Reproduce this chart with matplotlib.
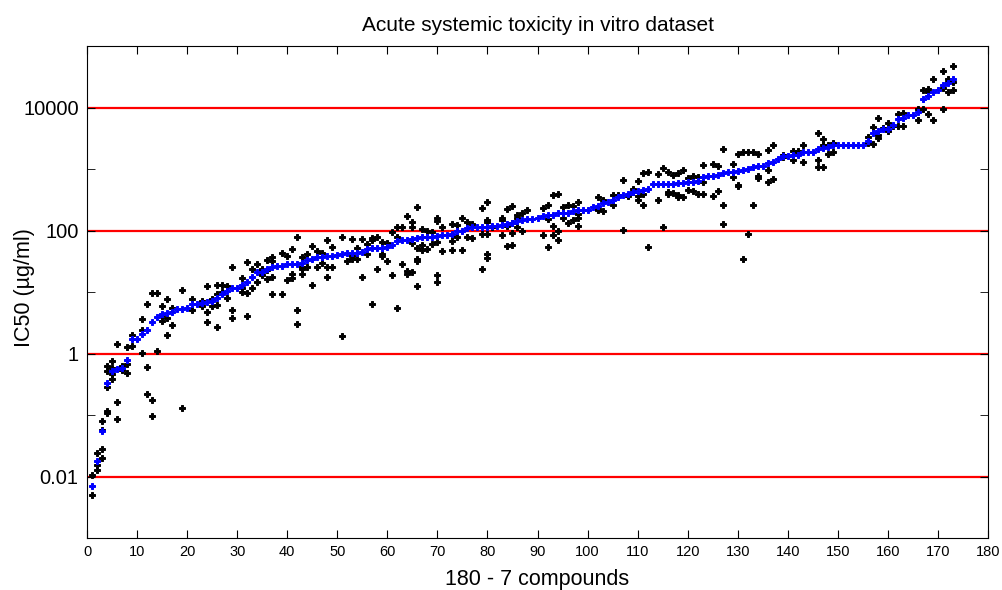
import numpy as np
import matplotlib.pyplot as plt
from matplotlib.ticker import FixedLocator, FixedFormatter

plt.rcParams['font.family'] = ['Liberation Sans', 'DejaVu Sans']

# log10 of the mean IC50 (ug/ml) per compound, sorted
mean_log = [
    -2.16, -1.74, -1.26, -0.48, -0.29, -0.26, -0.23, -0.10, 0.23, 0.23,
    0.32, 0.39, 0.52, 0.59, 0.65, 0.66, 0.68, 0.72, 0.72, 0.74,
    0.80, 0.80, 0.82, 0.83, 0.86, 0.90, 0.96, 1.01, 1.06, 1.06,
    1.12, 1.17, 1.24, 1.33, 1.33, 1.38, 1.40, 1.42, 1.42, 1.46,
    1.46, 1.46, 1.47, 1.52, 1.54, 1.57, 1.57, 1.58, 1.59, 1.60,
    1.61, 1.63, 1.63, 1.63, 1.65, 1.70, 1.71, 1.71, 1.71, 1.73,
    1.76, 1.83, 1.85, 1.85, 1.86, 1.88, 1.89, 1.89, 1.90, 1.91,
    1.92, 1.92, 1.95, 1.99, 2.00, 2.04, 2.05, 2.05, 2.05, 2.05,
    2.07, 2.08, 2.09, 2.11, 2.13, 2.15, 2.17, 2.18, 2.19, 2.20,
    2.24, 2.25, 2.26, 2.28, 2.28, 2.29, 2.31, 2.33, 2.34, 2.34,
    2.39, 2.40, 2.44, 2.47, 2.50, 2.55, 2.58, 2.59, 2.62, 2.65,
    2.66, 2.67, 2.75, 2.76, 2.76, 2.76, 2.76, 2.78, 2.78, 2.79,
    2.79, 2.80, 2.87, 2.88, 2.89, 2.91, 2.93, 2.95, 2.95, 2.97,
    2.99, 3.00, 3.03, 3.05, 3.05, 3.09, 3.11, 3.17, 3.21, 3.21,
    3.22, 3.23, 3.27, 3.28, 3.28, 3.33, 3.34, 3.35, 3.39, 3.39,
    3.39, 3.39, 3.39, 3.39, 3.39, 3.46, 3.58, 3.61, 3.65, 3.65,
    3.71, 3.82, 3.83, 3.87, 3.88, 3.92, 4.14, 4.18, 4.25, 4.29,
    4.36, 4.40, 4.46,
]

# log10 of the single in vitro measurements, by compound number
replicates = {
    1: [-1.97, -2.30], 2: [-1.61, -1.81, -1.90], 3: [-1.55, -1.70, -1.09, -1.25],
    4: [-0.94, -0.97, -0.54, -0.20, -0.29], 5: [-0.12, -0.24, -0.34, -0.41],
    6: [0.16, -0.79, -1.07], 7: [-0.21, -0.27], 8: [0.11, -0.17, -0.31],
    9: [0.12, 0.30], 11: [0.56, 0.39, 0.01], 12: [0.80, -0.22, -0.66],
    13: [0.99, -0.75, -1.02], 14: [0.99, 0.04], 15: [0.77, 0.63, 0.53],
    16: [0.88, 0.57, 0.30], 17: [0.74, 0.47], 19: [1.04, -0.89],
    21: [0.88, 0.71], 23: [0.86, 0.78], 24: [1.10, 0.67, 0.52],
    25: [0.88, 0.77], 26: [1.12, 0.96, 0.79, 0.43], 27: [1.11, 1.00],
    28: [1.09, 0.91], 29: [1.40, 0.71, 0.58], 31: [1.23, 1.06, 1.00],
    32: [1.48, 0.99, 0.61], 33: [1.37, 1.06], 34: [1.45, 1.16],
    35: [1.38, 1.36, 1.28], 36: [1.52, 1.36, 1.21], 37: [1.57, 1.51, 1.25, 0.96],
    39: [1.64, 0.97], 40: [1.59, 1.19], 41: [1.70, 1.30, 1.22],
    42: [1.89, 0.70, 0.48], 43: [1.57, 1.40, 1.38, 1.29], 44: [1.61, 1.41],
    45: [1.74, 1.11], 46: [1.67, 1.41], 47: [1.63, 1.47], 48: [1.84, 1.40, 1.25],
    49: [1.73, 1.41], 51: [1.90, 0.29], 52: [1.50], 53: [1.86, 1.58, 1.53],
    54: [1.71, 1.54], 55: [1.86, 1.25], 56: [1.78, 1.61], 57: [1.87, 1.85, 0.80],
    58: [1.89, 1.37], 59: [1.81, 1.61, 1.59], 60: [1.79, 1.50], 61: [1.97, 1.28],
    62: [2.05, 1.90, 0.74], 63: [2.05, 1.45], 64: [2.23, 1.34, 1.30],
    65: [2.14, 2.05, 1.79, 1.32], 66: [2.39, 1.71, 1.54, 1.51, 1.10],
    67: [2.02, 1.77, 1.68], 68: [2.00, 1.70], 69: [1.97, 1.78],
    70: [2.21, 2.15, 1.81, 1.28, 1.17], 71: [2.06, 1.67], 73: [2.11, 1.93, 1.83, 1.68],
    74: [2.09, 1.89], 75: [2.20, 1.68], 76: [2.14, 1.90], 77: [2.10, 1.87],
    79: [2.36, 1.94, 1.37], 80: [2.47, 2.17, 2.14, 1.94, 1.62, 1.55], 81: [2.06],
    83: [2.21, 2.17, 1.92], 84: [2.35, 2.08, 1.75], 85: [2.40, 2.13, 1.96, 1.77],
    86: [2.26, 2.21, 2.06], 87: [2.29, 1.99], 88: [2.34], 91: [2.36, 1.92],
    92: [2.41, 2.19, 1.73], 93: [2.57, 2.08, 1.92], 94: [2.60, 1.99, 1.85],
    95: [2.38, 2.21], 96: [2.41, 2.13], 97: [2.40, 2.17], 98: [2.47, 2.27, 2.21, 2.08],
    102: [2.55, 2.35, 2.33], 103: [2.49, 2.31], 105: [2.57, 2.42], 106: [2.58],
    107: [2.82, 2.01], 108: [2.56], 109: [2.68, 2.63], 110: [2.80, 2.56, 2.49],
    111: [2.93, 2.59, 2.42], 112: [2.95, 1.73], 114: [2.92, 2.50], 115: [3.01, 2.05],
    116: [2.95, 2.63, 2.60], 117: [2.90, 2.61], 118: [2.94, 2.57, 2.54],
    119: [2.98, 2.55], 120: [2.85, 2.66], 121: [2.88, 2.64], 122: [2.87, 2.60],
    123: [3.07, 2.79, 2.60], 125: [3.08, 2.56], 126: [3.05, 2.64],
    127: [3.33, 2.42, 2.11], 129: [3.08, 2.87], 130: [3.25, 2.74, 2.72],
    131: [3.28, 1.53], 132: [3.28, 1.95], 133: [3.28, 2.42], 134: [3.25, 2.89, 2.85],
    136: [3.31, 2.99, 2.79], 137: [3.39, 2.84], 139: [3.23, 3.20], 141: [3.30, 3.15],
    142: [3.30, 3.24], 143: [3.39, 3.12], 146: [3.58, 3.15, 3.03],
    147: [3.48, 3.39, 3.03], 148: [3.39, 3.25], 149: [3.42, 3.28],
    156: [3.52, 3.43], 157: [3.69, 3.41], 158: [3.83, 3.55, 3.50], 159: [3.66],
    160: [3.74, 3.61], 161: [3.70], 162: [3.90, 3.70], 163: [3.91, 3.70],
    166: [3.98, 3.79], 167: [4.28, 3.97], 168: [4.30, 4.25, 3.90],
    169: [4.46, 3.79], 171: [4.59, 4.32, 3.98], 172: [4.47, 4.41, 4.25],
    173: [4.68, 4.42, 4.29],
}

limit_lines = [0.01, 1, 100, 10000]
ytick_labels = ['0.01', '1', '100', '10000']

compounds = np.arange(1, len(mean_log) + 1)
rep_x = [c for c, vals in replicates.items() for _ in vals]
rep_y = [v for vals in replicates.values() for v in vals]

fig = plt.figure(figsize=(10.03, 5.90), dpi=100)
ax = fig.add_axes([87 / 1003, 1 - 538 / 590, (988 - 87) / 1003, (538 - 46) / 590])

for yv in limit_lines:
    ax.axhline(yv, color='red', lw=1.6, zorder=1)

# individual measurements (black) and per-compound mean (blue)
ax.plot(rep_x, 10 ** np.array(rep_y), 'P', color='black', ms=4.5, mew=0.7, zorder=2)
ax.plot(compounds, 10 ** np.array(mean_log), 'P', color='blue', ms=4.5, mew=0.7, zorder=3)

ax.set_yscale('log')
ax.set_xlim(0, 180)
ax.set_ylim(1e-3, 1e5)
ax.set_xticks(np.arange(0, 181, 10))
ax.tick_params(axis='x', labelsize=10.5, direction='in', top=True, length=6, pad=5)
ax.yaxis.set_major_locator(FixedLocator(limit_lines))
ax.yaxis.set_major_formatter(FixedFormatter(ytick_labels))
ax.yaxis.set_minor_locator(FixedLocator([1e-3, 0.1, 10, 1000, 1e5]))
ax.tick_params(axis='y', which='both', direction='in', right=True, length=6, labelsize=14.5, pad=6)
ax.tick_params(axis='y', which='minor', labelleft=False)

ax.set_title('Acute systemic toxicity in vitro dataset', fontsize=15, pad=11)
ax.set_xlabel('180 - 7 compounds', fontsize=15.5, labelpad=7)
ax.set_ylabel('IC50 (µg/ml)', fontsize=15.5)
ax.yaxis.set_label_coords(-0.058, 0.51)

fig.savefig('out.png', dpi=100)
